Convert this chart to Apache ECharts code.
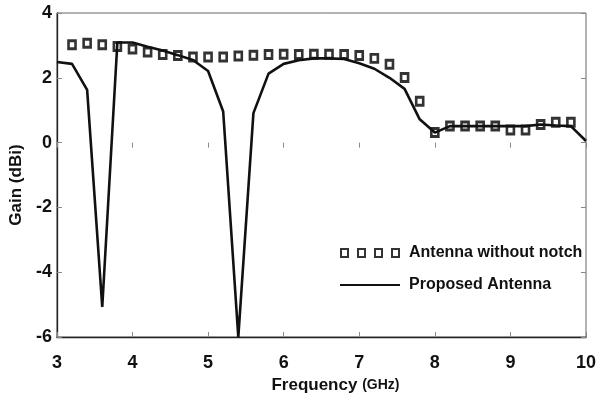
<!DOCTYPE html>
<html>
<head>
<meta charset="utf-8">
<script src="https://cdn.jsdelivr.net/npm/echarts@6/dist/echarts.min.js"></script>
<style>html,body{margin:0;padding:0;background:#fff;}#c{width:599px;height:399px;}</style>
</head>
<body>
<div id="c"></div>
<script>
// Antenna without notch (square markers)
const freqNoNotch = [3.2,3.4,3.6,3.8,4.0,4.2,4.4,4.6,4.8,5.0,5.2,5.4,5.6,5.8,6.0,6.2,6.4,6.6,6.8,7.0,7.2,7.4,7.6,7.8,8.0,8.2,8.4,8.6,8.8,9.0,9.2,9.4,9.6,9.8];
const gainNoNotch = [3.02,3.07,3.02,2.97,2.89,2.80,2.72,2.69,2.64,2.64,2.64,2.67,2.70,2.72,2.73,2.72,2.73,2.73,2.72,2.69,2.60,2.42,2.01,1.28,0.31,0.51,0.51,0.51,0.51,0.39,0.39,0.56,0.63,0.63];
// Proposed antenna (solid line)
const freqProposed = [3.0,3.2,3.4,3.6,3.8,4.0,4.2,4.4,4.6,4.8,5.0,5.2,5.4,5.6,5.8,6.0,6.2,6.4,6.6,6.8,7.0,7.2,7.4,7.6,7.8,8.0,8.2,8.4,8.6,8.8,9.0,9.2,9.4,9.6,9.8,10.0];
const gainProposed = [2.49,2.43,1.63,-5.07,3.09,3.09,2.96,2.84,2.70,2.55,2.21,0.96,-6.0,0.91,2.13,2.43,2.54,2.60,2.60,2.58,2.45,2.28,2.00,1.66,0.72,0.31,0.51,0.51,0.51,0.51,0.51,0.51,0.56,0.53,0.51,0.05];
const seriesNames = ['Antenna without notch','Proposed Antenna'];
const xTicks = [3,4,5,6,7,8,9,10];
const yTicks = [-6,-4,-2,0,2,4];

const FONT = "'Liberation Sans',Arial,sans-serif";
const chart = echarts.init(document.getElementById('c'), null, {renderer:'canvas'});
const axisLineStyle = {color:'#222', width:1.3};
chart.setOption({
  animation:false,
  backgroundColor:'#fff',
  grid:{left:50, right:7, top:13, bottom:56, show:true, borderColor:'#666', borderWidth:1},
  legend:{
    orient:'vertical', left:334, top:240, itemGap:16, itemWidth:60, itemHeight:8,
    textStyle:{fontFamily:FONT, fontWeight:'bold', fontSize:16, color:'#111', padding:[0,0,0,4]},
    data:[
      {name:seriesNames[0], icon:'path://M0,0H7V8H0Z M17,0H24V8H17Z M34,0H41V8H34Z M51,0H58V8H51Z'},
      {name:seriesNames[1], itemStyle:{opacity:0}}
    ]
  },
  xAxis:[{
    type:'value', min:xTicks[0], max:xTicks[xTicks.length-1], interval:1,
    name:'Frequency {s|(GHz)}', nameLocation:'middle', nameGap:36,
    nameTextStyle:{fontFamily:FONT, fontWeight:'bold', fontSize:17, color:'#111', padding:[0,0,0,28],
      rich:{s:{fontFamily:FONT, fontWeight:'bold', fontSize:14, color:'#111'}}},
    axisLine:{show:true, onZero:false, lineStyle:axisLineStyle},
    axisTick:{show:true, inside:true, length:5, lineStyle:{color:'#888'}},
    axisLabel:{fontFamily:FONT, fontWeight:'bold', fontSize:18, color:'#111', margin:17},
    splitLine:{show:false}
  },{
    type:'value', position:'top', min:xTicks[0], max:xTicks[xTicks.length-1], interval:1,
    axisLine:{show:false}, axisTick:{show:true, inside:true, length:5, lineStyle:{color:'#888'}},
    axisLabel:{show:false}, splitLine:{show:false}
  }],
  yAxis:[{
    type:'value', min:yTicks[0], max:yTicks[yTicks.length-1], interval:2,
    name:'Gain (dBi)', nameLocation:'middle', nameGap:20,
    nameTextStyle:{fontFamily:FONT, fontWeight:'bold', fontSize:17, color:'#111', padding:[0,20,0,0]},
    axisLine:{show:true, onZero:false, lineStyle:axisLineStyle},
    axisTick:{show:true, inside:true, length:5, lineStyle:{color:'#888'}},
    axisLabel:{fontFamily:FONT, fontWeight:'bold', fontSize:18, color:'#111', margin:5},
    splitLine:{show:false}
  },{
    type:'value', position:'right', min:yTicks[0], max:yTicks[yTicks.length-1], interval:2,
    axisLine:{show:false}, axisTick:{show:true, inside:true, length:5, lineStyle:{color:'#888'}},
    axisLabel:{show:false}, splitLine:{show:false}
  }],
  series:[
    {
      name:seriesNames[0], type:'scatter', z:2,
      symbol:'rect', symbolSize:[7,8],
      itemStyle:{color:'#fff', borderColor:'#000', borderWidth:2.8},
      data:freqNoNotch.map((f,i)=>[f,gainNoNotch[i]])
    },
    {
      name:seriesNames[1], type:'line', z:3, showSymbol:false, symbol:'none',
      lineStyle:{color:'#111', width:2.6}, itemStyle:{color:'#111'},
      data:freqProposed.map((f,i)=>[f,gainProposed[i]])
    }
  ]
});
</script>
</body>
</html>
